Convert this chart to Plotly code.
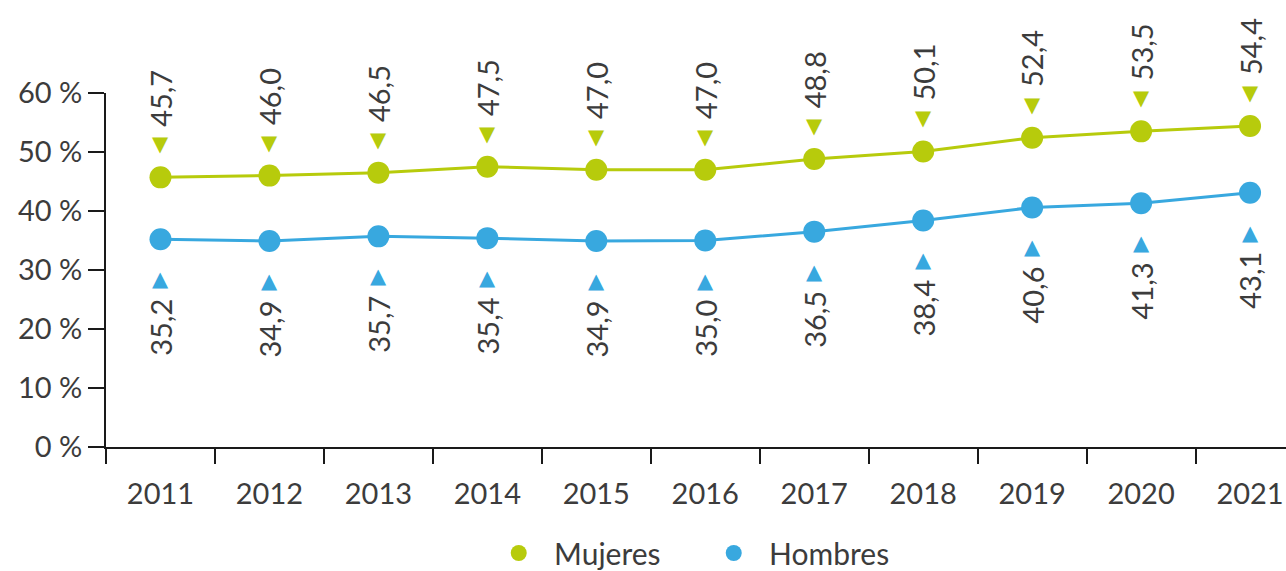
import plotly.graph_objects as go

years = ["2011", "2012", "2013", "2014", "2015", "2016", "2017", "2018", "2019", "2020", "2021"]
mujeres = [45.7, 46.0, 46.5, 47.5, 47.0, 47.0, 48.8, 50.1, 52.4, 53.5, 54.4]
hombres = [35.2, 34.9, 35.7, 35.4, 34.9, 35.0, 36.5, 38.4, 40.6, 41.3, 43.1]
y_ticks = [0, 10, 20, 30, 40, 50, 60]

GREEN = "#B7CB0C"
BLUE = "#38A8DF"
TEXT = "#3c3c3c"
FONT = "Lato"
FS = 29
NB = "\u00a0\u00a0"

def fmt(v):
    return f"{v:.1f}".replace(".", ",")

fig = go.Figure()
fig.add_trace(go.Scatter(x=years, y=mujeres, mode="lines+markers", showlegend=False,
                         line=dict(color=GREEN, width=3), marker=dict(color=GREEN, size=22),
                         cliponaxis=False))
fig.add_trace(go.Scatter(x=years, y=hombres, mode="lines+markers", showlegend=False,
                         line=dict(color=BLUE, width=3), marker=dict(color=BLUE, size=22),
                         cliponaxis=False))
fig.add_trace(go.Scatter(x=[None], y=[None], mode="markers", name=NB + "Mujeres",
                         marker=dict(color=GREEN, size=22)))
fig.add_trace(go.Scatter(x=[None], y=[None], mode="markers", name=NB + "Hombres",
                         marker=dict(color=BLUE, size=22)))

# category index positions for annotations
for i, v in enumerate(mujeres):
    fig.add_annotation(x=i, y=v, xref="x", yref="y", text=fmt(v), textangle=-90,
                       showarrow=False, yshift=79,
                       font=dict(family=FONT, size=FS, color=TEXT))
    fig.add_annotation(x=i, y=v, xref="x", yref="y", text="▼", showarrow=False, yshift=33,
                       font=dict(family="DejaVu Sans", size=21, color=GREEN))
for i, v in enumerate(hombres):
    fig.add_annotation(x=i, y=v, xref="x", yref="y", text=fmt(v), textangle=-90,
                       showarrow=False, yshift=-88,
                       font=dict(family=FONT, size=FS, color=TEXT))
    fig.add_annotation(x=i, y=v, xref="x", yref="y", text="▲", showarrow=False, yshift=-40,
                       font=dict(family="DejaVu Sans", size=21, color=BLUE))

fig.update_layout(
    width=1286, height=571,
    margin=dict(l=106, r=0, t=93, b=124),
    paper_bgcolor="white", plot_bgcolor="white",
    font=dict(family=FONT, size=FS, color=TEXT),
    legend=dict(orientation="h", x=0.555, xref="container", xanchor="center",
                y=0.0315, yref="container", yanchor="middle",
                entrywidth=170, entrywidthmode="pixels",
                font=dict(family=FONT, size=30, color=TEXT)),
)
fig.update_xaxes(type="category", range=[-0.5, 10.33], showgrid=False, showline=True,
                 linecolor="#1a1a1a", linewidth=2, ticks="outside", tickson="boundaries",
                 ticklen=15, tickwidth=2, tickcolor="#1a1a1a", ticklabelstandoff=20,
                 tickfont=dict(family=FONT, size=FS, color=TEXT))
fig.update_yaxes(range=[0, 60], showgrid=False, zeroline=False, showline=True,
                 linecolor="#1a1a1a", linewidth=2, ticks="outside", ticklen=16, tickwidth=2,
                 tickcolor="#1a1a1a", tickvals=y_ticks, ticktext=[f"{t} %" for t in y_ticks],
                 tickfont=dict(family=FONT, size=FS, color=TEXT))

fig.write_html("out.html")
